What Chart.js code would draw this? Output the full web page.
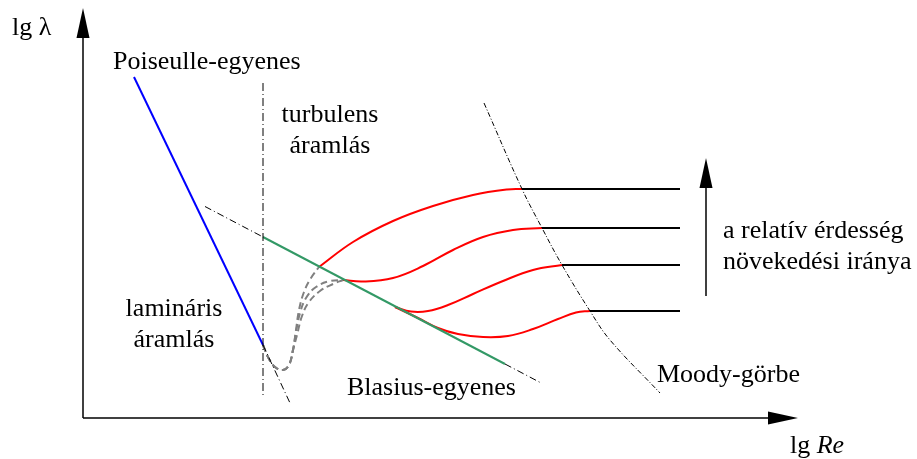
<!DOCTYPE html>
<html>
<head>
<meta charset="utf-8">
<script src="https://cdn.jsdelivr.net/npm/chart.js@4"></script>
<style>
  body { margin: 0; background: #fff; }
  canvas { display: block; }
</style>
</head>
<body>
<canvas id="moody" width="917" height="459"></canvas>
<script>
// schematic units: x = lg Re, y = lg λ (arbitrary, origin at the axes corner)
const poiseuille = [[5.1, 34.1], [18.0, 7.3]];
const poiseuilleExt = [[18.0, 7.3], [20.7, 1.5]];
const boundary = [[18.0, 33.5], [18.0, 2.0]];
const blasius = [[18.0, 18.1], [42.2, 5.4]];
const blasiusExtLeft = [[12.2, 21.15], [18.0, 18.1]];
const blasiusExtRight = [[42.2, 5.4], [45.7, 3.56]];
const moody = [[40.1, 31.5], [43.9, 22.9], [45.9, 19.0], [47.9, 15.3], [50.7, 10.7], [52.7, 7.8], [57.7, 2.5]];

// transition region (dashed)
const transCommon = [[18.0, 7.3], [18.5, 6.1], [19.2, 5.1], [20.0, 4.8], [20.6, 5.3], [21.0, 6.8]];
const trans1 = transCommon.concat([[21.3, 8.8], [21.6, 10.8], [22.1, 12.6], [22.8, 14.0], [23.6, 15.1]]);
const trans2 = transCommon.concat([[21.3, 8.6], [21.7, 10.5], [22.3, 12.0], [23.3, 13.1], [24.7, 13.7], [26.0, 13.8]]);
const trans3 = transCommon.concat([[21.4, 8.3], [21.9, 10.2], [22.6, 11.6], [23.7, 12.7], [25.0, 13.4], [26.0, 13.8]]);

// rough pipe curves and their horizontal (fully rough) parts
const rough1 = [[23.6, 15.1], [27.0, 17.6], [31.0, 19.7], [35.0, 21.2], [39.0, 22.3], [42.4, 22.85], [43.9, 22.9]];
const rough2 = [[26.0, 13.8], [28.0, 13.65], [31.0, 14.0], [34.0, 15.2], [37.0, 16.8], [40.0, 18.1], [43.0, 18.8], [45.9, 19.0]];
const rough3 = [[31.2, 11.1], [32.8, 10.65], [34.5, 10.7], [36.5, 11.3], [39.0, 12.4], [42.0, 13.7], [45.0, 14.8], [47.9, 15.3]];
const rough4 = [[31.2, 11.1], [33.5, 10.0], [35.5, 9.0], [37.5, 8.4], [40.0, 8.1], [42.5, 8.2], [45.0, 8.9], [47.5, 9.9], [49.3, 10.55], [50.7, 10.7]];
const flatEnd = 59.7;
const flats = [[43.9, 22.9], [45.9, 19.0], [47.9, 15.3], [50.7, 10.7]];

// arrows: axes and roughness direction
const arrows = [
    { from: [0, 0], to: [71.5, 0] },
    { from: [0, 0], to: [0, 41.0] },
    { from: [62.3, 12.2], to: [62.3, 26.0] }
];

const labels = [
    { text: 'lg λ', x: -7.1, y: 38.3, align: 'left' },
    { text: 'Poiseulle-egyenes', x: 3.0, y: 34.9, align: 'left' },
    { text: 'turbulens', x: 24.7, y: 29.6, align: 'center' },
    { text: 'áramlás', x: 24.7, y: 26.5, align: 'center' },
    { text: 'lamináris', x: 9.1, y: 10.2, align: 'center' },
    { text: 'áramlás', x: 9.1, y: 7.1, align: 'center' },
    { text: 'Blasius-egyenes', x: 26.4, y: 2.3, align: 'left' },
    { text: 'Moody-görbe', x: 57.4, y: 3.6, align: 'left' },
    { text: 'a relatív érdesség', x: 64.0, y: 18.0, align: 'left' },
    { text: 'növekedési iránya', x: 64.0, y: 14.9, align: 'left' }
];

const FONT = '"Liberation Serif", "Times New Roman", serif';

function line(points, color, width, dash, tension) {
    return {
        data: points.map(p => ({ x: p[0], y: p[1] })),
        showLine: true,
        borderColor: color,
        borderWidth: width,
        borderDash: dash || [],
        pointRadius: 0,
        tension: tension || 0,
        fill: false,
        clip: false
    };
}

const datasets = [
    line(boundary, '#000', 1, [8, 3, 1, 3]),
    line(poiseuilleExt, '#000', 1, [7, 3, 1, 3]),
    line(blasiusExtLeft, '#000', 1, [7, 3, 1, 3]),
    line(blasiusExtRight, '#000', 1, [7, 3, 1, 3]),
    line(moody, '#000', 1, [5, 2, 1, 2], 0.4),
    line(blasius, '#339966', 2),
    line(poiseuille, '#0000ff', 2),
    line(trans1, '#808080', 2, [7, 4], 0.4),
    line(trans2, '#808080', 2, [7, 4], 0.4),
    line(trans3, '#808080', 2, [7, 4], 0.4),
    line(rough1, '#ff0000', 2, null, 0.4),
    line(rough2, '#ff0000', 2, null, 0.4),
    line(rough3, '#ff0000', 2, null, 0.4),
    line(rough4, '#ff0000', 2, null, 0.4)
];
flats.forEach(p => datasets.push(line([p, [flatEnd, p[1]]], '#000', 2)));

const annotate = {
    id: 'annotate',
    afterDatasetsDraw(chart) {
        const { ctx, scales: { x, y } } = chart;
        ctx.save();
        ctx.strokeStyle = '#000';
        ctx.fillStyle = '#000';
        ctx.lineWidth = 1.5;
        arrows.forEach(a => {
            const x0 = x.getPixelForValue(a.from[0]), y0 = y.getPixelForValue(a.from[1]);
            const x1 = x.getPixelForValue(a.to[0]), y1 = y.getPixelForValue(a.to[1]);
            const ang = Math.atan2(y1 - y0, x1 - x0);
            const len = 30, half = 6.5;
            const bx = x1 - Math.cos(ang) * len, by = y1 - Math.sin(ang) * len;
            ctx.beginPath();
            ctx.moveTo(x0, y0);
            ctx.lineTo(bx, by);
            ctx.stroke();
            ctx.beginPath();
            ctx.moveTo(x1, y1);
            ctx.lineTo(bx + Math.sin(ang) * half, by - Math.cos(ang) * half);
            ctx.lineTo(bx - Math.sin(ang) * half, by + Math.cos(ang) * half);
            ctx.closePath();
            ctx.fill();
        });

        ctx.textBaseline = 'alphabetic';
        ctx.font = '26px ' + FONT;
        labels.forEach(l => {
            ctx.textAlign = l.align;
            ctx.fillText(l.text, x.getPixelForValue(l.x), y.getPixelForValue(l.y));
        });

        // axis title with italic Re
        ctx.textAlign = 'left';
        let px = x.getPixelForValue(70.7);
        const py = y.getPixelForValue(-3.5);
        ctx.fillText('lg ', px, py);
        px += ctx.measureText('lg ').width;
        ctx.font = 'italic 26px ' + FONT;
        ctx.fillText('Re', px, py);
        ctx.restore();
    }
};

new Chart(document.getElementById('moody'), {
    type: 'scatter',
    data: { datasets: datasets },
    options: {
        responsive: false,
        animation: false,
        layout: { padding: 0 },
        plugins: { legend: { display: false }, tooltip: { enabled: false } },
        scales: {
            x: { type: 'linear', display: false, min: -8.3, max: 83.4 },
            y: { type: 'linear', display: false, min: -4.1, max: 41.8 }
        }
    },
    plugins: [annotate]
});
</script>
</body>
</html>
